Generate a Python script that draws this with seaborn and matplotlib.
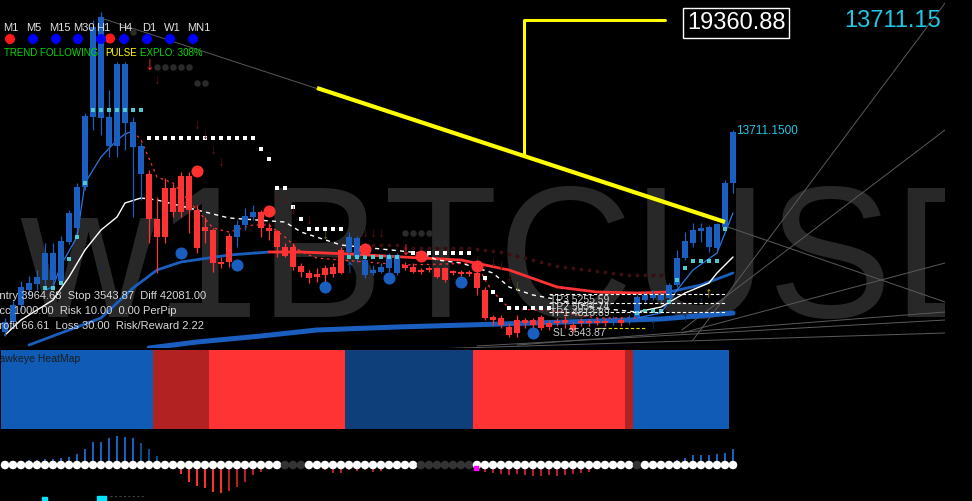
import numpy as np
import matplotlib.pyplot as plt
from matplotlib.colors import ListedColormap
from matplotlib.patches import Rectangle, Circle
import seaborn as sns

# dark trading-terminal look
sns.set_theme(style="dark", rc={"axes.facecolor": "black", "figure.facecolor": "black"})
plt.rcParams['font.family'] = ['Liberation Sans', 'DejaVu Sans']

# weekly BTCUSD candles (prices)
opens = [3700, 4200, 5050, 5800, 6100, 6300, 6300, 6250, 8200, 8900,
         10950, 14450, 14400, 13000, 13000, 14150, 12950, 11600, 11600, 9350,
         10900, 10900, 11500, 11500, 9800, 8950, 8800, 7200, 8500, 8450,
         9050, 9450, 9700, 8900, 8750, 7950, 7950, 7000, 6650, 6600,
         6900, 6950, 7800, 7700, 7450, 6550, 6650, 6700, 6900, 6650,
         7050, 6950, 6800, 6900, 6900, 6900, 6750, 6700, 6700, 6650,
         5800, 4450, 4400, 3950, 4300, 4300, 4300, 4450, 4150, 4250,
         4300, 4050, 4250, 4250, 4250, 4250, 4200, 4300, 4250, 4450,
         5300, 5400, 5300, 5400, 6050, 7400, 8150, 8750, 7950, 7900,
         8950, 11150]
highs = [4400, 5300, 6250, 6500, 6800, 8150, 8150, 8500, 9800, 11150,
         14650, 19300, 19700, 15800, 17200, 17200, 14450, 13150, 11800, 10450,
         11400, 11100, 11700, 11700, 10050, 9450, 8900, 7450, 8650, 9300,
         9900, 10050, 9800, 9150, 8800, 8150, 8150, 7150, 6800, 6900,
         7050, 7150, 7950, 8700, 8500, 7550, 7050, 7150, 7650, 7650,
         7200, 7150, 6900, 7000, 6950, 6950, 6800, 6800, 6800, 6800,
         5950, 4550, 4550, 4150, 4550, 4400, 4400, 4550, 4300, 4400,
         4500, 4200, 4400, 4350, 4400, 4400, 4500, 4450, 4550, 5550,
         5700, 5800, 5700, 6150, 7800, 8700, 9150, 9150, 9050, 9150,
         11300, 13800]
lows = [3500, 4000, 4800, 5500, 5800, 6050, 5950, 6050, 8100, 8800,
        10800, 13800, 13550, 12450, 12450, 12800, 9450, 10300, 8150, 6650,
        8150, 9450, 9450, 8650, 7650, 8150, 6700, 6900, 6950, 7950,
        8800, 9300, 8450, 8300, 7450, 7450, 6800, 6450, 6150, 6200,
        6050, 6450, 6600, 7400, 7200, 6400, 6550, 6650, 6700, 6550,
        6800, 6650, 6600, 6700, 6400, 6200, 6550, 6500, 6500, 5550,
        4300, 4050, 3900, 3450, 3450, 3900, 3800, 3800, 3800, 4000,
        3900, 3700, 4000, 4000, 4050, 4000, 4050, 4000, 4100, 4300,
        5200, 5300, 5200, 5300, 5950, 7300, 7950, 8200, 7700, 7800,
        8800, 10650]
closes = [4200, 5050, 5950, 6150, 6450, 7650, 7650, 8250, 9650, 10950,
          14500, 18950, 19450, 14450, 17100, 17100, 14200, 13000, 9350, 8450,
          8450, 9700, 9700, 9800, 7900, 8750, 7150, 7100, 7200, 9050,
          9500, 9700, 8900, 8750, 7950, 7500, 6950, 6700, 6400, 6450,
          6550, 6600, 6650, 8450, 8400, 7300, 6800, 6950, 7550, 7550,
          6900, 6700, 6700, 6800, 6450, 6300, 6650, 6600, 6600, 5900,
          4400, 4300, 4050, 3550, 3650, 4150, 4050, 3900, 3950, 4150,
          4150, 3800, 4150, 4150, 4150, 4150, 4350, 4150, 4400, 5450,
          5550, 5600, 5550, 6050, 7400, 8250, 8800, 8900, 8950, 9100,
          11150, 13711]

# moving averages
fast_idx = [5, 6, 7, 9, 10, 12, 14, 15, 16, 17, 19, 21, 24, 26, 28, 31, 33, 35, 37,
            39, 42, 45, 50, 55, 59, 60, 61, 63, 66, 68, 74, 79, 82, 84, 86, 89, 91]
fast_val = [5800, 5950, 7050, 8450, 11150, 12450, 13300, 13600, 13750, 13300, 11450,
            11150, 9800, 8900, 8700, 9050, 9050, 8450, 7700, 7400, 7300, 7200, 7050,
            7100, 7150, 6300, 5700, 4900, 4800, 4800, 4400, 4400, 4650, 5800, 6800,
            7650, 9650]
mid_idx = [0, 2, 6, 8, 10, 12, 14, 15, 17, 19, 24, 28, 35, 37, 42, 47, 52, 54, 57,
           61, 63, 66, 68, 74, 79, 82, 85, 88, 89, 91]
mid_val = [3550, 4300, 5300, 6450, 7800, 8800, 9450, 10150, 10400, 10300, 9800, 9400,
           9200, 8700, 8050, 7850, 7650, 7300, 7150, 6650, 5950, 5550, 5400, 4900,
           4700, 4950, 5650, 6150, 6650, 7450]
slow_idx = [3, 12, 16, 19, 22, 28, 33, 37, 43, 52, 57, 63, 69, 74, 79, 83, 87, 91]
slow_val = [3050, 4400, 5900, 6800, 7200, 7550, 7700, 7700, 7600, 7400, 7300, 6800,
            5950, 5700, 5650, 5700, 6050, 6650]
long_idx = [18, 24, 32, 39, 49, 62, 74, 82, 91]
long_val = [2900, 3200, 3500, 3800, 3950, 4100, 4250, 4350, 4650]

# trailing-stop dots
wdot_idx = [18, 19, 20, 21, 22, 23, 24, 25, 26, 27, 28, 29, 30, 31, 32, 33, 34, 35,
            36, 37, 38, 39, 40, 41, 42, 51, 52, 53, 54, 55, 56, 57, 58, 60, 61, 62,
            63, 64, 65, 66, 67, 68]
wdot_val = [13400, 13400, 13400, 13400, 13400, 13400, 13400, 13400, 13400, 13400,
            13400, 13400, 13400, 13400, 12850, 12350, 10900, 10900, 9950, 9350, 8850,
            8850, 8850, 8850, 8850, 7650, 7650, 7650, 7650, 7650, 7650, 7650, 7650,
            6400, 5700, 5300, 4900, 4900, 4900, 4900, 4900, 4900]
cdot_idx = [5, 6, 7, 8, 9, 10, 11, 12, 13, 14, 15, 16, 17, 43, 44, 45, 46, 47, 48,
            49, 79, 80, 81, 82, 83, 84, 85, 86, 87, 88, 89, 90]
cdot_val = [5900, 5900, 6150, 7350, 8450, 11150, 14800, 14800, 14800, 14800, 14800,
            14800, 14800, 7450, 7450, 7450, 7450, 7450, 7450, 7450, 4650, 4750, 4750,
            4750, 5200, 6300, 6900, 7250, 7250, 7250, 7250, 8850]
fred_idx = list(range(44, 83))
fred_val = [8050, 8050, 8050, 8050, 8050, 8050, 7900, 7900, 7900, 7900, 7900, 7900,
            7900, 7900, 7900, 7850, 7800, 7750, 7700, 7600, 7500, 7400, 7300, 7200,
            7100, 7000, 6950, 6900, 6850, 6800, 6750, 6700, 6650, 6600, 6550, 6550,
            6550, 6550, 6550]
gdot_idx = [16, 19, 20, 21, 22, 23, 24, 25, 50, 51, 52, 53, 54, 55]
gdot_val = [18700, 16950, 16950, 16950, 16950, 16950, 16150, 16150, 8650, 8650, 8650,
            8650, 8150, 8150]

# signal circles
rcirc_idx = [24, 33, 45, 52, 59]
rcirc_val = [11750, 9750, 7850, 7500, 7000]
bcirc_idx = [22, 29, 40, 48, 57, 66]
bcirc_val = [7650, 7050, 5950, 6400, 6200, 3650]

# arrows
dn_idx = [19, 24, 25, 26, 27, 34, 35, 36, 38, 45, 46, 47, 59, 61, 62, 63]
dn_val = [16300, 14050, 13550, 12800, 12200, 10450, 10300, 9800, 9300, 8650, 8650,
          8650, 7300, 7200, 7050, 6450]
dn_big_idx = [18, 50]
dn_big_val = [17050, 7800]
olive_idx = [40, 64]
olive_val = [8550, 6000]
up_dark_idx = [12, 81, 85, 87]
up_dark_val = [6800, 4050, 4400, 5200]

# trend lines: (start idx, start price, end idx, end price)
gray_lines = [(12, 19400, 90, 9200), (86, 3300, 117.5, 20150), (84.6, 3800, 117.5, 13800),
              (84.6, 3650, 117.5, 7150), (90, 9000, 117.5, 5200), (64, 3050, 117.5, 4700),
              (59, 3000, 117.5, 4300), (49, 2800, 117.5, 3650)]
yellow_trend = (39, 15900, 90, 9200)
yellow_mark = ([64.9, 64.9, 82.5], [12550, 19300, 19300])
tp_levels = [5600, 5150, 4700]
sl_level = 3900

# heatmap states (run lengths), 0 blue, 1 dark red, 2 red, 3 dark blue
heat_states = [0, 1, 2, 3, 2, 1, 0]
heat_lens = [19, 7, 17, 16, 19, 1, 12]
heat_colors = ['#0f5bb5', '#b22222', '#ff3333', '#0e3f7a']

# oscillator histogram
osc = [2, 3, 4, 5, 5, 6, 6, 7, 8, 11, 16, 23, 23, 27, 29, 28, 27, 22, 16, 9,
       0, 0, -9, -17, -21, -23, -27, -28, -26, -22, -17, -10, -7, 0, 0, 0, 0, 0, 0, 0,
       -5, -8, -8, -5, -6, -5, -7, -6, 0, 0, 0, 0, 0, 0, 0, 0, 0, 0, 0, 0,
       -7, -8, -9, -10, -9, -10, -11, -11, -10, -11, -10, -9, -8, -7,
       0, 0, 0, 0, 0, 0, 0, 0, 0, 0, 5, 7, 10, 10, 10, 11, 12, 16]
gray_dot_idx = [35, 36, 37, 52, 53, 54, 55, 56, 57, 58, 79]

timeframes = ['M1', 'M5', 'M15', 'M30', 'H1', 'H4', 'D1', 'W1', 'MN1']
tf_colors = ['#ff1a1a', '#0000ff', '#0000ff', '#0000ff', '#0000ff', '#0000ff',
             '#0000ff', '#0000ff', '#0000ff']

BLUE = '#1a5fbf'
RED = '#ff3333'
W, H = 972, 501

fig = plt.figure(figsize=(W / 100, H / 100), dpi=100)
fig.patch.set_facecolor('black')

# ---- main price panel ----
ax = fig.add_axes([0, 1 - 348 / H, 945 / W, 348 / H])
ax.set_xlim(-0.625, 117.5)
ax.set_ylim(2900, 20300)
ax.axis('off')

ax.text(20 / 945, 1 - 317 / 348, 'w1BTCUSD', transform=ax.transAxes, fontsize=134.6,
        color='#282828', ha='left', va='baseline', clip_on=True, zorder=0)

for x0, y0, x1, y1 in gray_lines:
    ax.plot([x0, x1], [y0, y1], color='#5a5a5a', lw=0.7, zorder=1)

sns.scatterplot(x=gdot_idx, y=gdot_val, ax=ax, color='#2b2b2b', s=22, linewidth=0, zorder=1)
sns.scatterplot(x=fred_idx, y=fred_val, ax=ax, color='#3a0e0e', s=8, linewidth=0, zorder=1)

sns.lineplot(x=long_idx, y=long_val, ax=ax, color=BLUE, lw=3.6, estimator=None, sort=False, zorder=2)
sns.lineplot(x=slow_idx[:7], y=slow_val[:7], ax=ax, color=BLUE, lw=2, estimator=None, sort=False, zorder=2)
sns.lineplot(x=slow_idx[6:16], y=slow_val[6:16], ax=ax, color='#ff3333', lw=2, estimator=None, sort=False, zorder=2)
sns.lineplot(x=slow_idx[15:], y=slow_val[15:], ax=ax, color=BLUE, lw=2, estimator=None, sort=False, zorder=2)

sns.lineplot(x=mid_idx[:9], y=mid_val[:9], ax=ax, color='white', lw=1, estimator=None, sort=False, zorder=3)
sns.lineplot(x=mid_idx[8:25], y=mid_val[8:25], ax=ax, color='white', lw=1, linestyle=(0, (3, 3)),
             estimator=None, sort=False, zorder=3)
sns.lineplot(x=mid_idx[24:], y=mid_val[24:], ax=ax, color='white', lw=1, estimator=None, sort=False, zorder=3)

sns.lineplot(x=fast_idx[:9], y=fast_val[:9], ax=ax, color='#2a78e0', lw=0.9, estimator=None, sort=False, zorder=3)
sns.lineplot(x=fast_idx[8:32], y=fast_val[8:32], ax=ax, color='#ff3333', lw=0.9, linestyle=(0, (2, 3)),
             estimator=None, sort=False, zorder=3)
sns.lineplot(x=fast_idx[31:], y=fast_val[31:], ax=ax, color='#2a78e0', lw=0.9, estimator=None, sort=False, zorder=3)

# candles
idx = np.arange(len(closes))
o = np.array(opens)
c = np.array(closes)
cols = np.where(c >= o, BLUE, RED)
ax.vlines(idx, lows, highs, colors=cols, lw=0.9, zorder=4)
ax.bar(idx, np.maximum(np.abs(c - o), 100), bottom=np.minimum(o, c), width=0.66,
       color=cols, linewidth=0, zorder=4)

sns.scatterplot(x=wdot_idx, y=wdot_val, ax=ax, color='white', marker='s', s=5, linewidth=0, zorder=5)
sns.scatterplot(x=cdot_idx, y=cdot_val, ax=ax, color='#50c8d0', marker='s', s=7, linewidth=0, zorder=5)
sns.scatterplot(x=rcirc_idx, y=rcirc_val, ax=ax, color='#ff3030', s=75, linewidth=0, zorder=6)
sns.scatterplot(x=bcirc_idx, y=bcirc_val, ax=ax, color=BLUE, s=75, linewidth=0, zorder=6)

for i, v in zip(dn_idx, dn_val):
    ax.text(i, v, '↓', color='#5c1212', fontsize=10, ha='center', va='center', zorder=5)
for i, v in zip(dn_big_idx, dn_big_val):
    ax.text(i, v, '↓', color='#ff3030', fontsize=14, ha='center', va='center', zorder=6)
for i, v in zip(olive_idx, olive_val):
    ax.text(i, v, '↓', color='#6b6b10', fontsize=10, ha='center', va='center', zorder=5)
for i, v in zip(up_dark_idx, up_dark_val):
    ax.text(i, v, '↑', color='#12305c', fontsize=10, ha='center', va='center', zorder=5)
ax.text(43, 6900, '↑', color=BLUE, fontsize=14, ha='center', va='center', zorder=6)
ax.text(88, 5700, '↑', color='#b8a800', fontsize=11, ha='center', va='center', zorder=6)

for lvl in tp_levels:
    ax.plot([68, 90], [lvl, lvl], color='white', lw=0.8, ls=(0, (3, 2)), zorder=5)
ax.plot([74, 80], [sl_level, sl_level], color='#e0e000', lw=0.8, ls=(0, (3, 2)), zorder=5)

x0, y0, x1, y1 = yellow_trend
ax.plot([x0, x1], [y0, y1], color='#ffff00', lw=3, solid_capstyle='butt', zorder=7)
ax.plot(yellow_mark[0], yellow_mark[1], color='#ffff00', lw=2.2, zorder=7)

# ---- heatmap panel ----
axh = fig.add_axes([1 / W, 1 - 429 / H, 728 / W, 79 / H])
heat_row = np.repeat(heat_states, heat_lens)[None, :]
sns.heatmap(heat_row, ax=axh, cmap=ListedColormap(heat_colors), vmin=-0.5, vmax=3.5,
            cbar=False, xticklabels=False, yticklabels=False)
axh.axis('off')

# ---- oscillator panel ----
axo = fig.add_axes([0, 0, 945 / W, 71 / H])
axo.set_xlim(-0.625, 117.5)
axo.set_ylim(-36, 35)
axo.axis('off')
osc_cols = []
for i, v in enumerate(osc):
    if v > 0:
        osc_cols.append('#0e4a8a' if 17 <= i <= 19 else BLUE)
    else:
        osc_cols.append('#ff3030' if 22 <= i <= 27 else '#b82020')
axo.bar(np.arange(len(osc)), osc, width=0.35, color=osc_cols, linewidth=0)
dot_cols = ['#333333' if i in gray_dot_idx else 'white' for i in range(len(osc))]
axo.scatter(np.arange(len(osc)), np.zeros(len(osc)), c=dot_cols, s=38, linewidths=0, zorder=3)
axo.scatter([58.9], [-3], color='#ff00ff', marker='s', s=8, zorder=4)

# ---- overlay for labels (pixel coordinates) ----
ov = fig.add_axes([0, 0, 1, 1], facecolor='none')
ov.set_xlim(0, W)
ov.set_ylim(H, 0)
ov.axis('off')

tf_x = [3, 26, 49, 73, 96, 118, 142, 164, 187]
dot_x = [10, 33, 56, 78, 101, 124, 147, 170, 193]
for x, name in zip(tf_x, timeframes):
    ov.text(x, 28, name, color='#e0e0e0', fontsize=8, va='center', ha='left')
ov.add_patch(Circle((110, 38.5), 4.3, color='#ff1a1a'))
for x, col in zip(dot_x, tf_colors):
    ov.add_patch(Circle((x, 39), 4.3, color=col))
ov.text(4, 53, 'TREND FOLLOWING', color='#00dc00', fontsize=7, va='center')
ov.text(105, 53, 'PULSE', color='#ffff00', fontsize=7, va='center')
ov.text(140, 53, 'EXPLO: 308%', color='#00dc00', fontsize=7, va='center')

info = ['Entry 3964.68  Stop 3543.87  Diff 42081.00',
        'Acc 1000.00  Risk 10.00  0.00 PerPip',
        'Profit 66.61  Loss 30.00  Risk/Reward 2.22']
for k, line in enumerate(info):
    ov.text(-8, 296 + 15 * k, line, color='#d8d8d8', fontsize=8, va='center')

for y, s in zip([300, 307, 313], ['TP3 5255.59', 'TP2 5034.74', 'TP1 4813.89']):
    ov.text(550, y, s, color='#d0d0d0', fontsize=7.5, va='center')
ov.text(553, 333, 'SL 3543.87', color='#d0d0d0', fontsize=7.5, va='center')

ov.text(736, 23, '19360.88', color='white', fontsize=17, ha='center', va='center',
        bbox=dict(boxstyle='square,pad=0.15', facecolor='black', edgecolor='white', lw=1))
ov.text(941, 21, '13711.15', color='#21c8e8', fontsize=17, ha='right', va='center')
ov.text(736, 131, '13711.1500', color='#21c8e8', fontsize=8.5, ha='left', va='center')

ov.text(-8, 359, 'Hawkeye HeatMap', color='#1c1c1c', fontsize=7.5, va='center')

ov.add_patch(Rectangle((42, 497), 5, 4, color='#00e5ff'))
ov.add_patch(Rectangle((97, 496), 9, 5, color='#00e5ff'))
ov.plot([110, 145], [496, 496], color='#444444', lw=0.8, ls=(0, (2, 2)))

fig.savefig('out.png', dpi=100, facecolor='black')
